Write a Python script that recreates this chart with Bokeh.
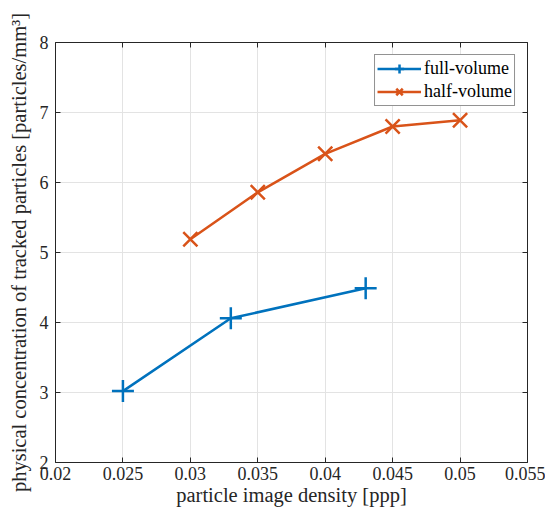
from bokeh.plotting import figure
from bokeh.models import LinearAxis, FixedTicker, Legend, LegendItem, Range1d, CustomJSTickFormatter
from bokeh.embed import file_html
from bokeh.resources import INLINE

full_x = [0.025, 0.033, 0.043]
full_y = [3.02, 4.06, 4.49]
half_x = [0.030, 0.035, 0.040, 0.045, 0.050]
half_y = [5.19, 5.86, 6.41, 6.80, 6.89]
x_ticks = [0.02, 0.025, 0.03, 0.035, 0.04, 0.045, 0.05, 0.055]
x_tick_labels = ["0.02", "0.025", "0.03", "0.035", "0.04", "0.045", "0.05", "0.055"]
y_ticks = [2, 3, 4, 5, 6, 7, 8]

FONT = "Liberation Serif"
AX = "#262626"
BLUE = "#0072BD"
ORANGE = "#D95319"

p = figure(width=545, height=520, output_backend="svg", toolbar_location=None,
           x_range=Range1d(0.02, 0.055), y_range=Range1d(2, 8),
           min_border_left=55, min_border_right=18, min_border_top=42, min_border_bottom=58)
p.outline_line_color = None

def style_axis(ax):
    ax.axis_line_color = AX
    ax.axis_line_width = 1
    ax.major_tick_line_color = AX
    ax.major_tick_in = 5
    ax.major_tick_out = 0
    ax.minor_tick_line_color = None
    ax.major_label_text_font = FONT
    ax.major_label_text_font_size = "18px"
    ax.major_label_text_color = AX
    ax.axis_label_text_font = FONT
    ax.axis_label_text_font_size = "20.5px"
    ax.axis_label_text_font_style = "normal"
    ax.axis_label_text_color = AX

xt = FixedTicker(ticks=x_ticks)
yt = FixedTicker(ticks=y_ticks)
p.xaxis.ticker = xt
p.yaxis.ticker = yt
p.xaxis.major_label_overrides = {t: l for t, l in zip(x_ticks, x_tick_labels)}
p.xaxis.axis_label = "particle image density [ppp]"
p.yaxis.axis_label = "physical concentration of tracked particles [particles/mm³]"
for ax in p.xaxis + p.yaxis:
    style_axis(ax)
p.xaxis.major_label_standoff = 4
p.yaxis.major_label_standoff = 7
p.xaxis.axis_label_standoff = 1
p.yaxis.axis_label_standoff = 7

empty = CustomJSTickFormatter(code="return ''")
top = LinearAxis(ticker=FixedTicker(ticks=x_ticks), formatter=empty)
right = LinearAxis(ticker=FixedTicker(ticks=y_ticks), formatter=empty)
style_axis(top)
style_axis(right)
top.major_label_standoff = 0
right.major_label_standoff = 0
p.add_layout(top, "above")
p.add_layout(right, "right")

p.xgrid.ticker = xt
p.ygrid.ticker = yt
p.grid.grid_line_color = "#e3e3e3"
p.grid.grid_line_width = 1

l1 = p.line(full_x, full_y, line_color=BLUE, line_width=2.5)
m1 = p.scatter(full_x, full_y, marker="cross", size=22, line_color=BLUE, line_width=2.5)
l2 = p.line(half_x, half_y, line_color=ORANGE, line_width=2.5)
m2 = p.scatter(half_x, half_y, marker="x", size=20, line_color=ORANGE, line_width=2.5)

legend = Legend(items=[LegendItem(label="full-volume", renderers=[l1, m1]),
                       LegendItem(label="half-volume", renderers=[l2, m2])],
                location="top_right")
legend.label_text_font = FONT
legend.label_text_font_size = "18px"
legend.label_text_color = "#000000"
legend.border_line_color = AX
legend.border_line_width = 1
legend.margin = 12
legend.padding = 2
legend.spacing = 0
legend.glyph_width = 44
legend.glyph_height = 23
legend.label_standoff = 3
legend.label_height = 20
legend.background_fill_alpha = 1
p.add_layout(legend, "center")

open("out.html", "w").write(file_html(p, INLINE))
